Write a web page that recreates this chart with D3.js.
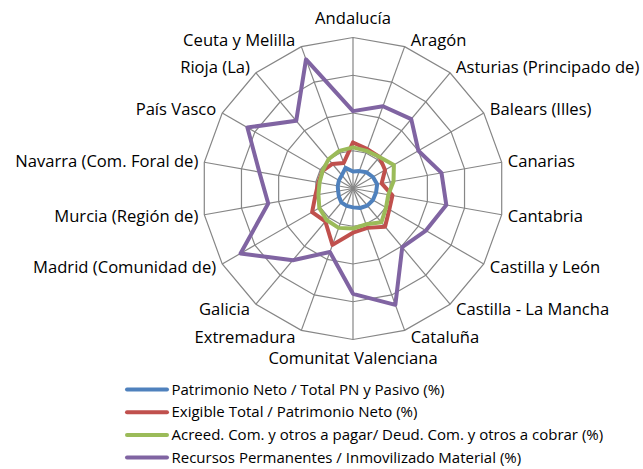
<!DOCTYPE html>
<html>
<head>
<meta charset="utf-8">
<script src="https://cdn.jsdelivr.net/npm/d3@7"></script>
<style>
  html, body { margin: 0; padding: 0; background: #ffffff; }
  svg { display: block; }
  text { font-family: "Open Sans", Lato, sans-serif; fill: #000; }
</style>
</head>
<body>
<svg id="chart" width="643" height="469"></svg>
<script>
// Regions (axes of the radar), clockwise from the top
const categories = [
  "Andalucía", "Aragón", "Asturias (Principado de)", "Balears (Illes)",
  "Canarias", "Cantabria", "Castilla y León", "Castilla - La Mancha",
  "Cataluña", "Comunitat Valenciana", "Extremadura", "Galicia",
  "Madrid (Comunidad de)", "Murcia (Región de)", "Navarra (Com. Foral de)",
  "País Vasco", "Rioja (La)", "Ceuta y Melilla"
];

// Ratios (%) per region
const patrimonioNeto = [45, 49, 56, 61, 65, 62, 61, 59, 55, 50, 49, 48, 43, 40, 41, 43, 46, 58];
const exigibleTotal = [122, 111, 109, 98, 77, 106, 111, 132, 111, 117, 159, 114, 125, 101, 93, 93, 85, 72];
const acreedDeud = [109, 106, 109, 125, 109, 95, 101, 117, 101, 106, 111, 109, 103, 93, 90, 93, 101, 106];
const recursosPerm = [205, 232, 240, 200, 238, 251, 223, 203, 328, 279, 179, 248, 344, 228, 252, 323, 234, 364];

const seriesNames = [
  "Patrimonio Neto / Total PN y Pasivo (%)",
  "Exigible Total / Patrimonio Neto (%)",
  "Acreed. Com. y otros a pagar/ Deud. Com. y otros a cobrar (%)",
  "Recursos Permanentes / Inmovilizado Material (%)"
];
const seriesColors = ["#4f81bd", "#c0504d", "#9bbb59", "#8064a2"];
const gridTicks = [100, 200, 300, 400];

const series = [patrimonioNeto, exigibleTotal, acreedDeud, recursosPerm].map((values, k) => ({
  name: seriesNames[k], color: seriesColors[k], values
}));

const svg = d3.select("#chart");
const cx = 353, cy = 188.5, outer = 151;

const r = d3.scaleLinear().domain([0, 400]).range([0, outer]);
const angle = d3.scaleLinear().domain([0, categories.length]).range([0, 2 * Math.PI]);

const g = svg.append("g").attr("transform", `translate(${cx},${cy})`);

const pt = (i, v) => [Math.sin(angle(i)) * r(v), -Math.cos(angle(i)) * r(v)];

// Grid rings
const ringLine = d3.line().curve(d3.curveLinearClosed);
g.selectAll("path.ring").data(gridTicks).join("path")
  .attr("class", "ring")
  .attr("d", t => ringLine(categories.map((c, i) => pt(i, t))))
  .attr("fill", "none").attr("stroke", "#868686").attr("stroke-width", 1.2);

// Spokes
g.selectAll("line.spoke").data(categories).join("line")
  .attr("class", "spoke")
  .attr("x1", 0).attr("y1", 0)
  .attr("x2", (c, i) => pt(i, 400)[0])
  .attr("y2", (c, i) => pt(i, 400)[1])
  .attr("stroke", "#868686").attr("stroke-width", 1.2);

// Category labels
g.selectAll("text.cat").data(categories).join("text")
  .attr("class", "cat")
  .each(function (c, i) {
    const a = angle(i);
    const [vx, vy] = pt(i, 400);
    const s = Math.sin(a), co = Math.cos(a);
    const t = d3.select(this);
    if (Math.abs(s) < 0.01) {
      t.attr("text-anchor", "middle").attr("x", vx)
        .attr("y", vy + (co > 0 ? -19 : 18.5));
    } else {
      t.attr("text-anchor", s > 0 ? "start" : "end")
        .attr("x", vx + (s > 0 ? 6 : -6))
        .attr("y", vy - co * 7);
    }
  })
  .attr("dy", "0.35em")
  .attr("font-size", 16.6)
  .text(c => c);

// Series polygons
const radial = d3.lineRadial()
  .angle((d, i) => angle(i))
  .radius(d => r(d))
  .curve(d3.curveLinearClosed);

g.selectAll("path.series").data(series).join("path")
  .attr("class", "series")
  .attr("d", s => radial(s.values))
  .attr("fill", "none")
  .attr("stroke", s => s.color)
  .attr("stroke-width", 4)
  .attr("stroke-linejoin", "round");

// Legend
const legend = svg.append("g").attr("transform", "translate(125,389.5)");
const rows = legend.selectAll("g").data(series).join("g")
  .attr("transform", (s, k) => `translate(0,${k * 22.7})`);
rows.append("line")
  .attr("x1", 2).attr("x2", 42).attr("y1", 0).attr("y2", 0)
  .attr("stroke", s => s.color).attr("stroke-width", 4)
  .attr("stroke-linecap", "round");
rows.append("text")
  .attr("x", 46.5).attr("y", 0).attr("dy", "0.35em")
  .attr("font-size", 15)
  .text(s => s.name);
</script>
</body>
</html>
